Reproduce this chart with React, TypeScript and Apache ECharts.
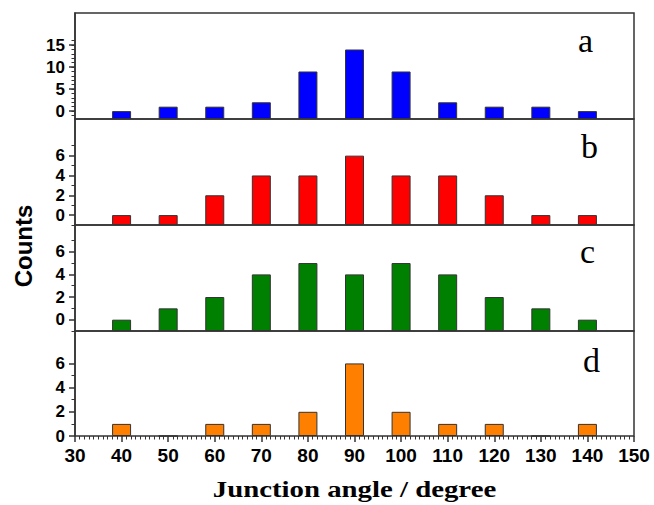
import React, { useEffect, useRef } from "react";
import * as echarts from "echarts";

// ---- data ----
const angles = [40, 50, 60, 70, 80, 90, 100, 110, 120, 130, 140];
const countsA = [0, 1, 1, 2, 9, 14, 9, 2, 1, 1, 0];
const countsB = [0, 0, 2, 4, 4, 6, 4, 4, 2, 0, 0];
const countsC = [0, 1, 2, 4, 5, 4, 5, 4, 2, 1, 0];
const countsD = [1, 0, 1, 1, 2, 6, 2, 1, 1, 0, 1];
const panelLetters = ["a", "b", "c", "d"];
const panelColors = ["#0000FF", "#FF0000", "#008000", "#FF8000"];
const majorTicksA = [0, 5, 10, 15];
const minorTicksA = [-1, 0, 1, 2, 3, 4, 5, 6, 7, 8, 9, 10, 11, 12, 13, 14, 15, 16];
const majorTicksB = [0, 2, 4, 6];
const minorTicksB = [-1, 1, 3, 5, 7];
const majorTicksC = [0, 2, 4, 6];
const minorTicksC = [-1, 1, 3, 5, 7];
const majorTicksD = [0, 2, 4, 6];
const minorTicksD = [1, 3, 5];
const xMin = 30;
const xMax = 150;
const xInterval = 10;
const yLabel = "Counts";
const xLabel = "Junction angle / degree";

const panels = [
  { counts: countsA, major: majorTicksA, minor: minorTicksA, min: -1.8, max: 22.3 },
  { counts: countsB, major: majorTicksB, minor: minorTicksB, min: -1, max: 9.7 },
  { counts: countsC, major: majorTicksC, minor: minorTicksC, min: -1, max: 8.36 },
  { counts: countsD, major: majorTicksD, minor: minorTicksD, min: 0, max: 8.68 },
];

const gridTops = [13, 119, 225, 331];
const gridHeights = [106, 106, 106, 105];
const letterPos = [
  [578, 40.5],
  [581, 146.5],
  [580, 251.5],
  [583, 360.5],
];

export default function App() {
  const ref = useRef<HTMLDivElement>(null);

  useEffect(() => {
    if (!ref.current) return;
    const chart = echarts.init(ref.current, null, { renderer: "svg" });
    const frame = "#333333";

    const grid = panels.map((_, i) => ({
      left: 75,
      right: 20,
      top: gridTops[i],
      height: gridHeights[i],
      show: true,
      borderColor: frame,
      borderWidth: 1.5,
      backgroundColor: "transparent",
      containLabel: false,
    }));

    const xAxis = panels.map((_, i) => {
      const isLast = i === panels.length - 1;
      return {
        type: "value",
        gridIndex: i,
        min: xMin,
        max: xMax,
        interval: xInterval,
        show: isLast,
        axisLine: { show: false, onZero: false },
        axisTick: {
          show: isLast,
          inside: false,
          length: 6,
          lineStyle: { color: frame, width: 1.5 },
        },
        minorTick: {
          show: isLast,
          splitNumber: 10,
          length: 3.5,
          lineStyle: { color: frame, width: 1 },
        },
        splitLine: { show: false },
        minorSplitLine: { show: false },
        axisLabel: {
          show: isLast,
          margin: 10,
          color: "#000",
          fontFamily: "Liberation Sans, Arial, sans-serif",
          fontWeight: "bold",
          fontSize: 19,
        },
      };
    });

    const yMajor = panels.map((p, i) => ({
      type: "value",
      gridIndex: i,
      position: "left",
      min: p.min,
      max: p.max,
      startValue: p.min,
      axisLine: { show: true, onZero: false, lineStyle: { color: frame, width: 1.5 } },
      axisTick: {
        show: true,
        inside: false,
        length: 6,
        customValues: p.major,
        lineStyle: { color: frame, width: 1.5 },
      },
      axisLabel: {
        show: true,
        customValues: p.major,
        margin: 10,
        color: "#000",
        fontFamily: "Liberation Sans, Arial, sans-serif",
        fontWeight: "bold",
        fontSize: 17,
      },
      splitLine: { show: false },
    }));

    const yMinor = panels.map((p, i) => ({
      type: "value",
      gridIndex: i,
      position: "left",
      offset: 0,
      min: p.min,
      max: p.max,
      axisLine: { show: false, onZero: false },
      axisTick: {
        show: true,
        inside: false,
        length: 3.5,
        customValues: p.minor,
        lineStyle: { color: frame, width: 1 },
      },
      axisLabel: { show: false },
      splitLine: { show: false },
    }));

    const series = panels.map((p, i) => ({
      type: "bar",
      xAxisIndex: i,
      yAxisIndex: i,
      barWidth: 19,
      clip: false,
      itemStyle: {
        color: panelColors[i],
        borderColor: "#333333",
        borderWidth: 1,
      },
      data: angles.map((a, k) => [a, p.counts[k]]),
    }));

    const graphic: any[] = panelLetters.map((l, i) => ({
      type: "text",
      x: letterPos[i][0],
      y: letterPos[i][1],
      style: {
        text: l,
        fill: "#000",
        font: 'normal 34px "Liberation Serif", "Times New Roman", serif',
        textAlign: "left",
        textVerticalAlign: "middle",
      },
    }));
    graphic.push({
      type: "text",
      x: 23,
      y: 246,
      rotation: Math.PI / 2,
      style: {
        text: yLabel,
        fill: "#000",
        font: 'bold 24px "Liberation Sans", Arial, sans-serif',
        textAlign: "center",
        textVerticalAlign: "middle",
      },
    });
    graphic.push({
      type: "text",
      x: 354.5,
      y: 489,
      scaleX: 1.2,
      style: {
        text: xLabel,
        fill: "#000",
        font: 'bold 24px "Liberation Serif", "Times New Roman", serif',
        textAlign: "center",
        textVerticalAlign: "middle",
      },
    });

    chart.setOption({
      animation: false,
      backgroundColor: "#fff",
      grid,
      xAxis,
      yAxis: [...yMajor, ...yMinor],
      series,
      graphic,
    });

    return () => chart.dispose();
  }, []);

  return (
    <div
      ref={ref}
      style={{ position: "fixed", left: 0, top: 0, width: 654, height: 505 }}
    />
  );
}
